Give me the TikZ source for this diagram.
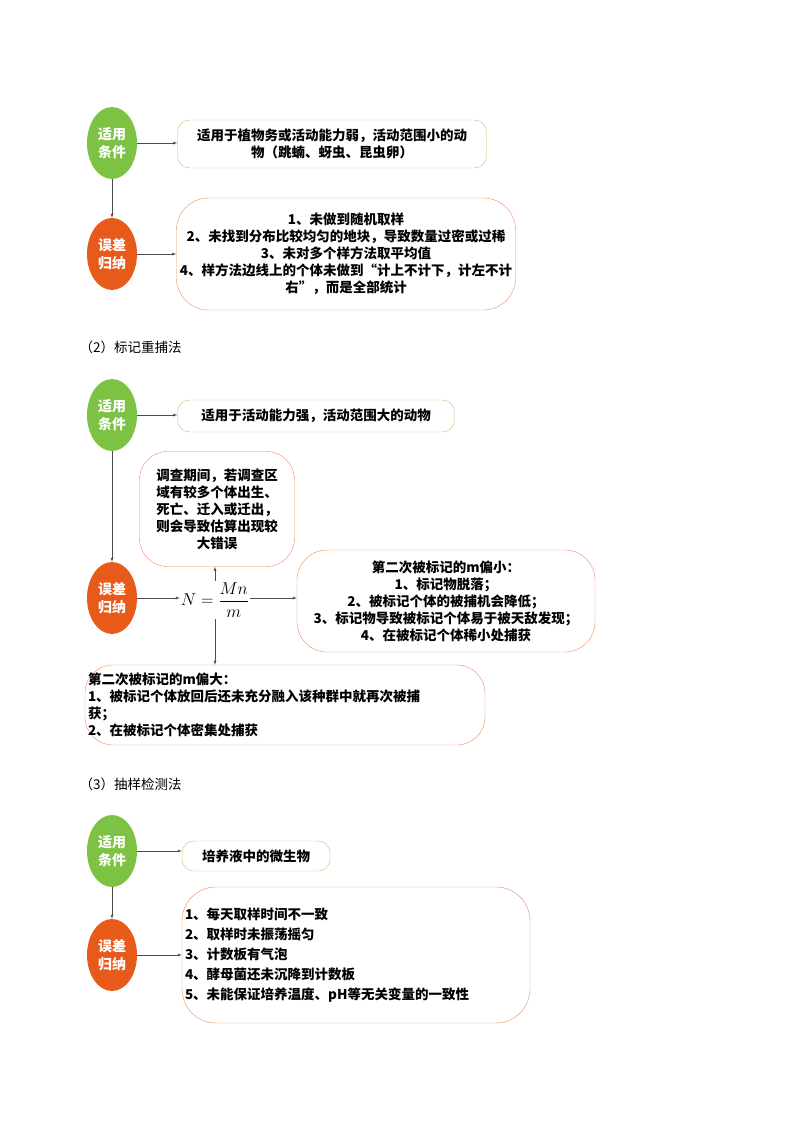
\documentclass[tikz,border=0pt]{standalone}
\usepackage{amsmath}
\usepackage{fontspec}
\setmainfont{Noto Sans CJK SC}
\usetikzlibrary{shapes.geometric}
\definecolor{leafgreen}{HTML}{7DC242}
\definecolor{burnt}{HTML}{E85A1A}
\definecolor{boxorange}{HTML}{EE8A5E}
\definecolor{boxgreen}{HTML}{9BD473}
\begin{document}
\begin{tikzpicture}[x=1pt,y=-1pt,>=latex,font=\fontsize{13.5}{17}\selectfont\bfseries]
    \tikzstyle{blob}=[ellipse,minimum width=50,minimum height=72,inner sep=0pt,text=white,align=center,font=\fontsize{14}{18}\selectfont\bfseries]
    \tikzstyle{cond}=[blob,fill=leafgreen]
    \tikzstyle{err}=[blob,fill=burnt]
    \tikzstyle{gbox}=[draw=boxgreen,rounded corners=12,align=center,inner sep=0pt]
    \tikzstyle{obox}=[draw=boxorange,rounded corners=32,align=center,inner sep=0pt]
    \tikzstyle{link}=[->,draw=black!70]
    \tikzstyle{title}=[anchor=west,font=\fontsize{13.5}{17}\selectfont]
    \useasboundingbox (0,0) rectangle (800,1132);

    % Sample plot method
    \node[cond] (c1) at (112,143) {适用\\条件};
    \node[err]  (e1) at (112,254) {误差\\归纳};
    \node[gbox,minimum width=309,minimum height=48] (b1) at (332,144)
        {适用于植物务或活动能力弱，活动范围小的动\\物（跳蝻、蚜虫、昆虫卵）};
    \node[obox,minimum width=339,minimum height=112] (b2) at (346,254)
        {1、未做到随机取样\\2、未找到分布比较均匀的地块，导致数量过密或过稀\\3、未对多个样方法取平均值\\4、样方法边线上的个体未做到“计上不计下，计左不计\\右”，而是全部统计};
    \draw[link] (c1)--(e1);
    \draw[link] (c1)--(c1-|b1.west);
    \draw[link] (e1)--(e1-|b2.west);

    % Mark-recapture method
    \node[title] (t2) at (76,347) {（2）标记重捕法};
    \node[cond] (c2) at (112,415) {适用\\条件};
    \node[err]  (e2) at (112,598) {误差\\归纳};
    \node[gbox,minimum width=277,minimum height=32] (b3) at (316,416)
        {适用于活动能力强，活动范围大的动物};
    \node[obox,rounded corners=28,minimum width=155,minimum height=115] (b4) at (217,509)
        {调查期间，若调查区\\域有较多个体出生、\\死亡、迁入或迁出，\\则会导致估算出现较\\大错误};
    \node[font=\fontsize{16}{18}\selectfont,inner sep=1pt] (f) at (215,600) {$N=\dfrac{Mn}{m}$};
    \node[obox,rounded corners=30,minimum width=298,minimum height=102] (b5) at (446,601)
        {第二次被标记的m偏小：\\1、标记物脱落；\\2、被标记个体的被捕机会降低；\\3、标记物导致被标记个体易于被天敌发现；\\4、在被标记个体稀小处捕获};
    \node[obox,rounded corners=28,align=left,minimum width=400,minimum height=80,text width=394] (b6) at (285,705)
        {第二次被标记的m偏大：\\1、被标记个体放回后还未充分融入该种群中就再次被捕\\获；\\2、在被标记个体密集处捕获};
    \draw[link] (c2)--(c2-|b3.west);
    \draw[link] (c2)--(e2);
    \draw[link] (e2)--(e2-|f.west);
    \draw[link] (e2-|f.east)--(e2-|b5.west);
    \draw[link] (f.north)--(f.north|-b4.south);
    \draw[link] (f.south)--(f.south|-b6.north);

    % Sampling method
    \node[title] (t3) at (76,784) {（3）抽样检测法};
    \node[cond] (c3) at (112,851) {适用\\条件};
    \node[err]  (e3) at (112,955) {误差\\归纳};
    \node[gbox,minimum width=148,minimum height=30] (b7) at (256,856) {培养液中的微生物};
    \node[obox,rounded corners=34,align=left,minimum width=348,minimum height=136,text width=342,font=\fontsize{13.5}{20}\selectfont\bfseries] (b8) at (356,955)
        {1、每天取样时间不一致\\2、取样时未振荡摇匀\\3、计数板有气泡\\4、酵母菌还未沉降到计数板\\5、未能保证培养温度、pH等无关变量的一致性};
    \draw[link] (c3)--(c3-|b7.west);
    \draw[link] (c3)--(e3);
    \draw[link] (e3)--(e3-|b8.west);
\end{tikzpicture}
\end{document}
